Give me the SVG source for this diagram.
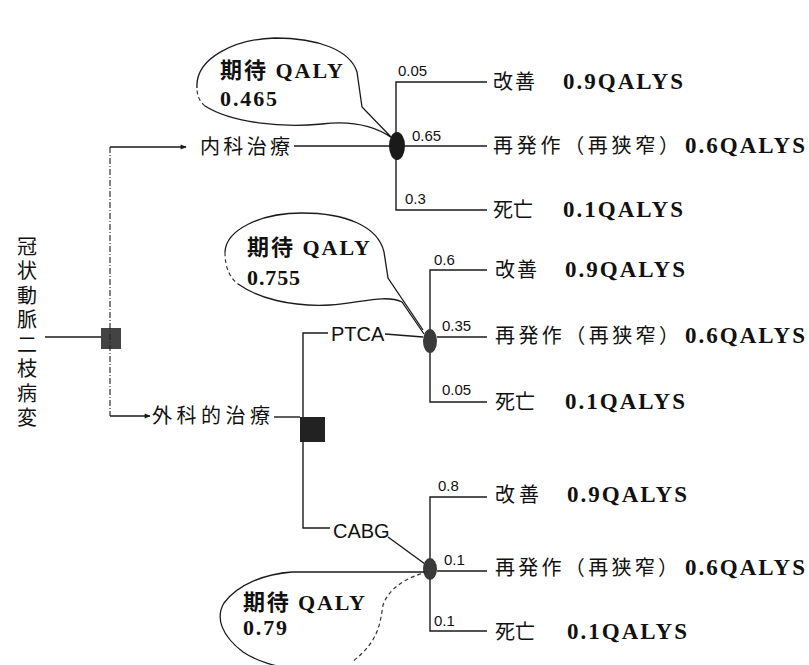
<svg xmlns="http://www.w3.org/2000/svg" width="809" height="665" viewBox="0 0 809 665">
<style>
.ln{stroke:#1a1a1a;stroke-width:1.4;fill:none}
.dl{stroke:#333;stroke-width:1.2;fill:none;stroke-dasharray:6 2 1 2}
.bub{stroke:#1a1a1a;stroke-width:1.3;fill:none}
.bubd{stroke:#333;stroke-width:1.2;fill:none;stroke-dasharray:4 3}
.jp{font-family:"Noto Sans CJK JP","Noto Sans",sans-serif;font-size:20px;fill:#111}
.jpo{font-family:"Noto Sans CJK JP","Noto Sans",sans-serif;font-size:20px;fill:#111}
.q{font-family:"Liberation Serif","Noto Sans CJK JP",serif;font-size:23px;font-weight:bold;fill:#111}
.bt{font-family:"Liberation Serif","Noto Sans CJK JP",serif;font-size:22px;font-weight:bold;fill:#111}
.p{font-family:"Liberation Sans",Arial,sans-serif;font-size:15px;fill:#111}
.lab{font-family:"Liberation Sans",Arial,sans-serif;font-size:20px;fill:#111}
.dec{fill:#222}
.ch{fill:#1a1a1a}
.ch2{fill:#3a3a3a}
</style>
<defs>
<marker id="arr" viewBox="0 0 10 10" refX="9" refY="5" markerWidth="8" markerHeight="6" orient="auto" markerUnits="userSpaceOnUse">
<path d="M0,1 L10,5 L0,9 Z" fill="#1a1a1a"/>
</marker>
</defs>

<g id="connectors">
<line class="ln" x1="45" y1="337" x2="101" y2="337"/>
<line class="dl" x1="110" y1="147" x2="110" y2="416"/>
<line class="ln" x1="110" y1="147" x2="186" y2="147" marker-end="url(#arr)"/>
<line class="ln" x1="294" y1="146" x2="390" y2="146"/>
<line class="ln" x1="110" y1="416" x2="150" y2="416" marker-end="url(#arr)"/>
<line class="ln" x1="274" y1="417" x2="300" y2="417"/>
<polyline class="ln" points="487,82 396,82 396,210 487,210"/>
<line class="ln" x1="405" y1="146" x2="487" y2="146"/>
<polyline class="ln" points="328,333 303,333 303,417"/>
<polyline class="ln" points="303,442 303,528 330,528"/>
<line class="ln" x1="385" y1="334" x2="423" y2="337"/>
<polyline class="ln" points="487,270 430,270 430,402 487,402"/>
<line class="ln" x1="437" y1="337" x2="487" y2="337"/>
<line class="ln" x1="388" y1="537" x2="425" y2="564"/>
<polyline class="ln" points="487,497 430,497 430,631 487,631"/>
<line class="ln" x1="437" y1="571" x2="487" y2="571"/>
</g>

<g id="root">
<text class="jp" x="27" y="236" writing-mode="vertical-rl" style="letter-spacing:4.5px">冠状動脈二枝病変</text>
</g>
<g id="decision1"><rect class="dec" x="101" y="328" width="20" height="21" fill-opacity="0.85"/></g>
<g id="medical"><text class="jp" x="200" y="154" textLength="90" lengthAdjust="spacing">内科治療</text></g>
<g id="surgical"><text class="jp" x="152" y="423" textLength="118" lengthAdjust="spacing">外科的治療</text></g>
<g id="decision2"><rect class="dec" x="300" y="417" width="25" height="25"/></g>
<g id="ptca"><text class="lab" x="331" y="341">PTCA</text></g>
<g id="cabg"><text class="lab" x="333" y="538">CABG</text></g>

<g id="chance1"><ellipse class="ch" cx="397" cy="146" rx="8" ry="14"/></g>
<g id="chance2"><ellipse class="ch2" cx="430" cy="341" rx="7" ry="12"/></g>
<g id="chance3"><ellipse class="ch2" cx="430" cy="569" rx="7" ry="11"/></g>

<g id="probs">
<text class="p" x="398" y="76">0.05</text>
<text class="p" x="412" y="141">0.65</text>
<text class="p" x="405" y="204">0.3</text>
<text class="p" x="434" y="265">0.6</text>
<text class="p" x="442" y="331">0.35</text>
<text class="p" x="442" y="395">0.05</text>
<text class="p" x="438" y="491">0.8</text>
<text class="p" x="444" y="565">0.1</text>
<text class="p" x="434" y="626">0.1</text>
</g>

<g id="outcomes1">
<text class="jpo" x="493" y="89" textLength="42" lengthAdjust="spacing">改善</text><text class="q" x="563" y="89" textLength="120" lengthAdjust="spacing">0.9QALYS</text>
<text class="jpo" x="493" y="153" textLength="186" lengthAdjust="spacing">再発作（再狭窄）</text><text class="q" x="685" y="153" textLength="120" lengthAdjust="spacing">0.6QALYS</text>
<text class="jpo" x="493" y="217" textLength="40" lengthAdjust="spacing">死亡</text><text class="q" x="563" y="217" textLength="120" lengthAdjust="spacing">0.1QALYS</text>
</g>
<g id="outcomes2">
<text class="jpo" x="495" y="277" textLength="42" lengthAdjust="spacing">改善</text><text class="q" x="565" y="277" textLength="120" lengthAdjust="spacing">0.9QALYS</text>
<text class="jpo" x="495" y="343" textLength="184" lengthAdjust="spacing">再発作（再狭窄）</text><text class="q" x="685" y="343" textLength="120" lengthAdjust="spacing">0.6QALYS</text>
<text class="jpo" x="495" y="409" textLength="40" lengthAdjust="spacing">死亡</text><text class="q" x="565" y="409" textLength="120" lengthAdjust="spacing">0.1QALYS</text>
</g>
<g id="outcomes3">
<text class="jpo" x="495" y="502" textLength="44" lengthAdjust="spacing">改善</text><text class="q" x="567" y="502" textLength="120" lengthAdjust="spacing">0.9QALYS</text>
<text class="jpo" x="495" y="575" textLength="183" lengthAdjust="spacing">再発作（再狭窄）</text><text class="q" x="685" y="575" textLength="120" lengthAdjust="spacing">0.6QALYS</text>
<text class="jpo" x="495" y="639" textLength="40" lengthAdjust="spacing">死亡</text><text class="q" x="567" y="639" textLength="120" lengthAdjust="spacing">0.1QALYS</text>
</g>

<g id="bubble1">
<path class="bub" d="M197,88 C195,58 235,39 275,38 C318,38 350,50 357,72 L362,107 L392,138 C372,124 348,121 322,124 C282,128 232,123 205,106"/>
<path class="bubd" d="M205,106 C199,101 197,95 197,88"/>
<text class="bt" x="220" y="78" textLength="123" lengthAdjust="spacing">期待 QALY</text>
<text class="bt" x="220" y="106" textLength="57" lengthAdjust="spacing">0.465</text>
</g>
<g id="bubble2">
<path class="bub" d="M225,252 C226,230 260,213 302,213 C345,213 378,226 384,252 L388,278 L423,330"/>
<path class="bub" d="M238,284 C258,298 290,307 330,305 C360,303 385,294 402,302 L424,334"/>
<path class="bubd" d="M225,252 C225,268 230,278 238,284"/>
<text class="bt" x="247" y="255" textLength="123" lengthAdjust="spacing">期待 QALY</text>
<text class="bt" x="247" y="285" textLength="53" lengthAdjust="spacing">0.755</text>
</g>
<g id="bubble3">
<path class="bub" d="M425,572 L292,572 C265,574 238,584 224,603 C215,618 222,636 243,652 C258,662 278,667 290,668"/>
<path class="bubd" d="M428,572 C405,577 388,590 383,605 C380,625 378,642 352,662"/>
<text class="bt" x="243" y="610" textLength="122" lengthAdjust="spacing">期待 QALY</text>
<text class="bt" x="243" y="635" textLength="44" lengthAdjust="spacing">0.79</text>
</g>
</svg>
